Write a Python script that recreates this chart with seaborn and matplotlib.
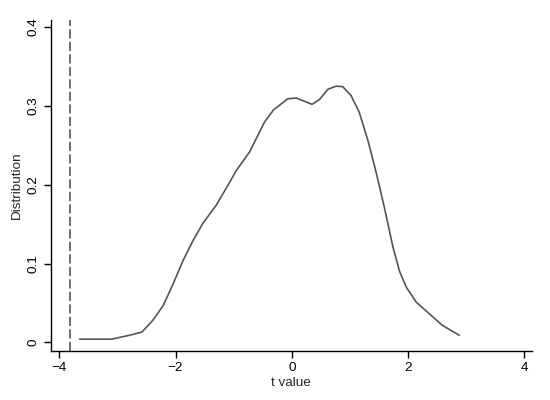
import matplotlib

matplotlib.use("Agg")

import matplotlib.pyplot as plt
import pandas as pd
import seaborn as sns

# Density of t values.
t_values = [
	-3.65, -3.10, -2.79, -2.58, -2.39, -2.21, -2.04, -1.87, -1.70, -1.53,
	-1.30, -1.07, -0.955, -0.727, -0.469, -0.314, -0.07, 0.075, 0.35, 0.476,
	0.62, 0.76, 0.876, 1.02, 1.16, 1.31, 1.45, 1.59, 1.74, 1.85,
	1.97, 2.14, 2.37, 2.59, 2.88,
]
density = [
	0.004, 0.004, 0.009, 0.013, 0.028, 0.047, 0.0745, 0.104, 0.129, 0.151,
	0.174, 0.203, 0.218, 0.2415, 0.2796, 0.295, 0.309, 0.310, 0.302, 0.308,
	0.321, 0.325, 0.3245, 0.313, 0.292, 0.256, 0.216, 0.172, 0.121, 0.091,
	0.070, 0.051, 0.036, 0.0216, 0.009,
]
observed_t = -3.82

x_ticks = [-4, -2, 0, 2, 4]
y_ticks = [0, 0.1, 0.2, 0.3, 0.4]
y_tick_labels = ["0", "0.1", "0.2", "0.3", "0.4"]

sns.set_style("ticks")
plt.rcParams.update({
	"font.family": ["Liberation Sans", "DejaVu Sans"],
	"axes.edgecolor": "black",
	"axes.linewidth": 1.0,
	"xtick.color": "black",
	"ytick.color": "black",
})

df = pd.DataFrame({"t": t_values, "density": density})

fig = plt.figure(figsize=(5.5, 4), dpi=100)
ax = fig.add_axes([0.092, 0.1225, 0.875, 0.8275])

sns.lineplot(data=df, x="t", y="density", color="#555555", linewidth=1.2, ax=ax)
ax.axvline(observed_t, color="#555555", linestyle=(0, (5.5, 2)), linewidth=1.2)

ax.set_xlim(-4.15, 4.13)
ax.set_ylim(-0.011, 0.409)
ax.set_xticks(x_ticks)
ax.set_xticklabels([str(v).replace("-", "\u2212") for v in x_ticks])
ax.set_yticks(y_ticks)
ax.set_yticklabels(y_tick_labels, rotation=90, va="center")
ax.tick_params(axis="both", labelsize=9.7, length=5, width=1.0, pad=3)
ax.set_xlabel("t value", fontsize=9.7, labelpad=2)
ax.set_ylabel("Distribution", fontsize=9.7, labelpad=3)
sns.despine(ax=ax)

fig.savefig("out.png", dpi=100, facecolor="white")
plt.close(fig)
